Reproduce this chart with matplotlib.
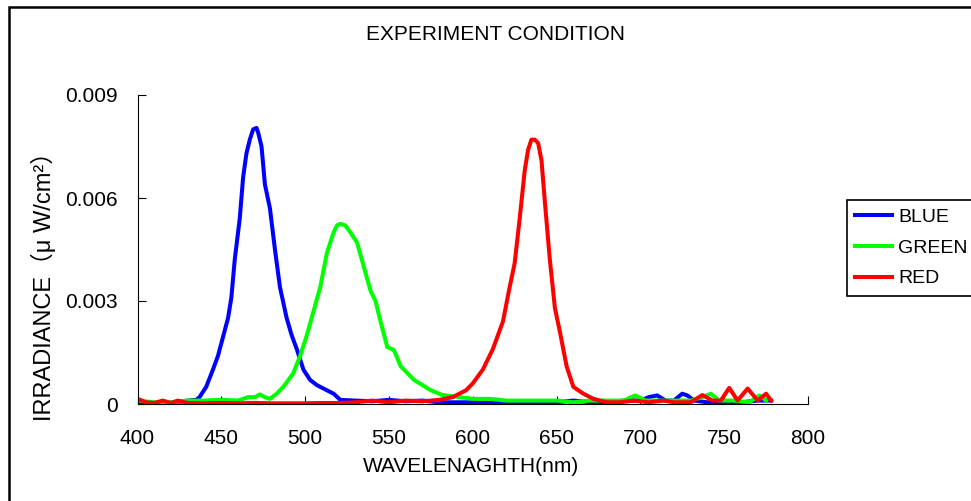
import matplotlib
matplotlib.use('Agg')
import matplotlib.pyplot as plt
from matplotlib.patches import Rectangle

plt.rcParams['font.family'] = ['Liberation Sans', 'Noto Sans CJK JP', 'DejaVu Sans']

# spectra (wavelength nm, irradiance)
blue_wl = [400, 410, 420, 430, 435, 437, 441, 445, 448, 451, 454, 456, 458, 461, 463,
           465, 467, 469, 471, 472, 474, 476, 479, 482, 485, 489, 492, 495, 499, 503,
           507, 511, 517, 521, 530, 540, 550, 560, 570, 580, 590, 600, 610, 620, 630,
           640, 650, 660, 670, 680, 690, 700, 705, 710, 715, 720, 725, 728, 732, 740,
           750, 760, 770, 778]
blue_val = [0.00005, 0.00002, 0.00003, 0.0001, 0.00012, 0.0002, 0.0005, 0.001, 0.0014,
            0.00195, 0.0025, 0.0031, 0.0042, 0.0054, 0.0066, 0.0073, 0.0077, 0.0080,
            0.00804, 0.0079, 0.0075, 0.0064, 0.0057, 0.0045, 0.0034, 0.0025, 0.002,
            0.0016, 0.001, 0.0007, 0.00055, 0.00045, 0.0003, 0.00012, 0.0001, 0.00008,
            0.00012, 0.00008, 0.0001, 0.00005, 0.00005, 0.00005, 0.00003, 0.00005,
            0.00005, 0.00003, 0.00005, 0.0001, 0.00005, 0.00005, 0.0001, 0.0001, 0.0002,
            0.00025, 0.0001, 0.0001, 0.0003, 0.00025, 0.0001, 0.00005, 0.00005, 0.00005,
            0.0001, 0.0001]

green_wl = [400, 410, 420, 430, 440, 450, 460, 466, 470, 473, 476, 479, 483, 487, 490,
            493, 497, 501, 505, 509, 513, 517, 519, 521, 524, 527, 531, 535, 539, 542,
            545, 549, 553, 557, 561, 565, 570, 575, 582, 592, 600, 610, 620, 630, 640,
            650, 660, 670, 680, 690, 697, 703, 710, 720, 730, 737, 742, 747, 755, 765,
            771, 775]
green_val = [0.0001, 0.00005, 0.00005, 0.0001, 0.0001, 0.00012, 0.0001, 0.0002, 0.0002,
             0.00028, 0.0002, 0.00015, 0.0003, 0.0005, 0.0007, 0.0009, 0.0014, 0.002,
             0.0027, 0.0034, 0.0044, 0.0050, 0.0052, 0.00525, 0.0052, 0.005, 0.0047,
             0.004, 0.0033, 0.003, 0.0024, 0.00166, 0.00157, 0.0011, 0.0009, 0.0007,
             0.00055, 0.0004, 0.00026, 0.0002, 0.00015, 0.00015, 0.0001, 0.0001, 0.0001,
             0.0001, 0.00005, 0.0001, 0.0001, 0.0001, 0.00025, 0.0001, 0.0001, 0.0001,
             0.0001, 0.0002, 0.0003, 0.0001, 0.0001, 0.00005, 0.00025, 0.0001]

red_wl = [400, 405, 410, 415, 420, 424, 430, 440, 450, 460, 470, 480, 490, 500, 510,
          520, 530, 540, 550, 560, 570, 580, 588, 592, 596, 600, 603, 606, 609, 612,
          615, 618, 620, 622, 625, 628, 631, 633, 635, 637, 639, 641, 643, 646, 649,
          652, 654, 656, 660, 666, 672, 680, 688, 696, 705, 714, 720, 730, 737, 743,
          748, 753, 758, 764, 770, 775, 778]
red_val = [0.00015, 0.00005, 0.00003, 0.0001, 0.00003, 0.0001, 0.00003, 0.00002, 0.00003,
           0.00002, 0.00003, 0.00002, 0.00002, 0.00002, 0.00003, 0.00003, 0.00005, 0.0001,
           0.00005, 0.0001, 0.00008, 0.00012, 0.0002, 0.0003, 0.0004, 0.0006, 0.0008,
           0.001, 0.0013, 0.0016, 0.002, 0.0024, 0.0029, 0.0034, 0.0041, 0.0054, 0.0068,
           0.0074, 0.0077, 0.0077, 0.0076, 0.0071, 0.0059, 0.0042, 0.0028, 0.0021, 0.0016,
           0.0011, 0.0005, 0.0003, 0.00015, 0.00005, 0.00005, 0.0001, 0.00005, 0.0001,
           0.00005, 0.00005, 0.00026, 0.0001, 0.0001, 0.00047, 0.0001, 0.00045, 0.0001,
           0.0003, 0.0001]

x_ticks = [400, 450, 500, 550, 600, 650, 700, 750, 800]
y_ticks = [0, 0.003, 0.006, 0.009]
y_labels = ['0', '0.003', '0.006', '0.009']

fig = plt.figure(figsize=(9.71, 5.01), dpi=100)
ax = fig.add_axes([137.5 / 971, 1 - 404 / 501, (808 - 137.5) / 971, (404 - 95) / 501])

ax.plot(blue_wl, blue_val, color='#0000ff', lw=2.9, label='BLUE')
ax.plot(green_wl, green_val, color='#00ff00', lw=2.9, label='GREEN')
ax.plot(red_wl, red_val, color='#ff0000', lw=2.9, label='RED')

ax.set_xlim(400, 800)
ax.set_ylim(0, 0.009)
ax.set_xticks(x_ticks)
ax.set_yticks(y_ticks)
ax.set_yticklabels(y_labels)
ax.spines['top'].set_visible(False)
ax.spines['right'].set_visible(False)
ax.tick_params(axis='x', direction='in', length=6, pad=18, labelsize=15)
ax.tick_params(axis='y', direction='in', length=6, pad=14, labelsize=15)

fig.text(495 / 971, 1 - 34 / 501, 'EXPERIMENT CONDITION', ha='center', va='center', fontsize=15)
fig.text(471 / 971, 1 - 467 / 501, 'WAVELENAGHTH(nm)', ha='center', va='center', fontsize=15)
fig.text(43 / 971, 1 - 281 / 501, 'IRRADIANCE（μ W/cm²）', ha='center', va='center',
         rotation=90, fontsize=17)

leg = fig.legend(loc='upper left', bbox_to_anchor=(847 / 971, 1 - 200 / 501),
                 borderaxespad=0, fontsize=14, fancybox=False, framealpha=1,
                 edgecolor='black', handlelength=1.9, handletextpad=0.3,
                 labelspacing=0.68, borderpad=0.42)
leg.get_frame().set_linewidth(1.2)

# outer chart border (cut off at right and bottom)
fig.patches.append(Rectangle((8.5 / 971, -0.1), 1.2, 1.1 - 6.5 / 501, transform=fig.transFigure,
                             fill=False, edgecolor='black', lw=1.8))

fig.savefig('out.png', dpi=100)
